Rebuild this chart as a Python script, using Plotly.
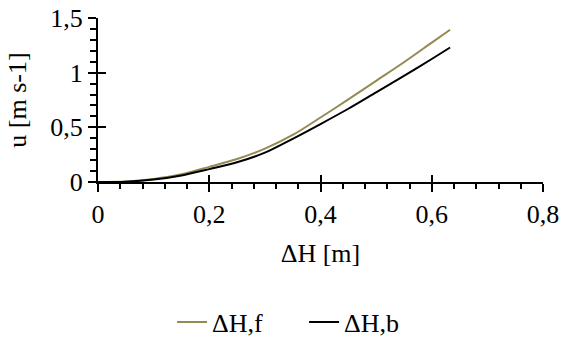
import plotly.graph_objects as go

dh = [0, 0.05, 0.1, 0.15, 0.2, 0.25, 0.3, 0.35, 0.4, 0.45, 0.5, 0.55, 0.6, 0.633]
u_f = [0, 0.005, 0.028, 0.07, 0.138, 0.21, 0.305, 0.43, 0.59, 0.755, 0.925, 1.095, 1.275, 1.393]
u_b = [0, 0.003, 0.022, 0.06, 0.118, 0.18, 0.268, 0.395, 0.53, 0.67, 0.82, 0.97, 1.125, 1.23]

x_ticks = [0, 0.2, 0.4, 0.6, 0.8]
x_labels = ["0", "0,2", "0,4", "0,6", "0,8"]
y_ticks = [0, 0.5, 1, 1.5]
y_labels = ["0", "0,5", "1", "1,5"]

FONT = "Liberation Serif"
FS = 26
XR = [0, 0.8]
YR = [0, 1.5]

fig = go.Figure()
fig.add_trace(go.Scatter(x=dh, y=u_f, mode="lines", name="ΔH,f",
                         line=dict(color="#948A54", width=2, shape="spline", smoothing=0.8)))
fig.add_trace(go.Scatter(x=dh, y=u_b, mode="lines", name="ΔH,b",
                         line=dict(color="#000000", width=2, shape="spline", smoothing=0.8)))
# invisible trace for overlay axes (inside halves of crossing major ticks)
fig.add_trace(go.Scatter(x=[0], y=[0], xaxis="x2", yaxis="y2", mode="markers",
                         marker=dict(opacity=0), showlegend=False, hoverinfo="skip"))

fig.update_layout(
    width=561, height=338,
    margin=dict(l=98, r=18, t=18, b=156),
    paper_bgcolor="white", plot_bgcolor="white",
    font=dict(family=FONT, size=FS, color="black"),
    xaxis=dict(range=XR, tickvals=x_ticks, ticktext=x_labels, showgrid=False,
               zeroline=False, showline=True, linecolor="black", linewidth=2,
               ticks="outside", ticklen=8, tickwidth=2, tickcolor="black",
               minor=dict(dtick=0.04, ticks="outside", ticklen=5, tickwidth=2, tickcolor="black"),
               tickfont=dict(family=FONT, size=FS), automargin=False,
               title=dict(text="ΔH [m]", font=dict(family=FONT, size=FS), standoff=16)),
    yaxis=dict(range=YR, tickvals=y_ticks, ticktext=y_labels, showgrid=False,
               zeroline=False, showline=True, linecolor="black", linewidth=2,
               ticks="outside", ticklen=8, tickwidth=2, tickcolor="black",
               minor=dict(dtick=0.1, ticks="outside", ticklen=6, tickwidth=2, tickcolor="black"),
               tickfont=dict(family=FONT, size=FS), automargin=False,
               title=dict(text="u [m s-1]", font=dict(family=FONT, size=FS), standoff=16)),
    xaxis2=dict(range=XR, overlaying="x", anchor="y2", side="bottom", tickvals=x_ticks,
                showticklabels=False, showgrid=False, zeroline=False, showline=False,
                ticks="inside", ticklen=7, tickwidth=2, tickcolor="black"),
    yaxis2=dict(range=YR, overlaying="y", anchor="x2", side="left", tickvals=y_ticks,
                showticklabels=False, showgrid=False, zeroline=False, showline=False,
                ticks="inside", ticklen=8, tickwidth=2, tickcolor="black"),
    legend=dict(orientation="h", xref="container", yref="container",
                x=0.542, xanchor="center", y=0.047, yanchor="middle",
                entrywidth=87, entrywidthmode="pixels",
                font=dict(family=FONT, size=FS), bgcolor="rgba(0,0,0,0)"),
)

fig.write_html("out.html", config={"displayModeBar": False},
               post_script="document.body.style.margin='0';document.body.style.overflow='hidden';")
